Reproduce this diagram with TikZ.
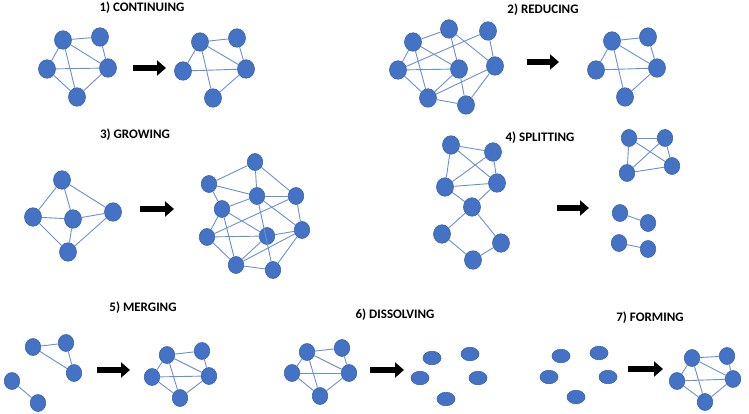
\documentclass[tikz,border=0pt]{standalone}
\usepackage{fontspec}
\setmainfont{Carlito}
\usetikzlibrary{shapes.geometric,arrows.meta}
\definecolor{nodeblue}{HTML}{4472C4}
\definecolor{nodeline}{HTML}{3A62AC}
\definecolor{edgeblue}{HTML}{6A8FD3}
\tikzset{
  nd/.style={ellipse,fill=nodeblue,draw=nodeline,line width=0.6pt,inner sep=0pt,minimum width=17pt,minimum height=18.5pt},
  nds/.style={nd,minimum width=15.5pt,minimum height=17pt},
  dot/.style={ellipse,fill=nodeblue,draw=nodeline,line width=0.6pt,inner sep=0pt,minimum width=18pt,minimum height=13.5pt},
  edge/.style={draw=edgeblue,line width=0.9pt},
  bigarrow/.style={line width=6.5pt,black,-{Triangle[length=9pt,width=15pt]}},
  ttl/.style={font=\bfseries\fontsize{13}{15}\selectfont,inner sep=0pt}
}
\begin{document}
\begin{tikzpicture}[x=1pt,y=-1pt]
\useasboundingbox (0,0) rectangle (749,414);
% ---------- 1) CONTINUING
\node[ttl] (t1) at (142,8) {1) CONTINUING};
\node[nd] (a1) at (63,40) {};
\node[nd] (a2) at (100,37) {};
\node[nd] (a3) at (47,69) {};
\node[nd] (a4) at (108,68) {};
\node[nd] (a5) at (77,97) {};
\foreach \u/\v in {a1/a2,a1/a3,a1/a4,a1/a5,a2/a4,a3/a4,a3/a5,a4/a5} \draw[edge] (\u) -- (\v);
\coordinate (r1s) at (133,68); \coordinate (r1e) at (166,68);
\draw[bigarrow] (r1s) -- (r1e);
\node[nd] (b1) at (200,42) {};
\node[nd] (b2) at (237,38) {};
\node[nd] (b3) at (183,71) {};
\node[nd] (b4) at (246,69) {};
\node[nd] (b5) at (213,98) {};
\foreach \u/\v in {b1/b2,b1/b3,b1/b4,b1/b5,b2/b4,b3/b4,b4/b5} \draw[edge] (\u) -- (\v);
% ---------- 2) REDUCING
\node[ttl] (t2) at (543,10) {2) REDUCING};
\node[nd] (p1) at (413,42) {};
\node[nd] (p2) at (449,29) {};
\node[nd] (p3) at (488,31) {};
\node[nd] (p4) at (398,70) {};
\node[nd] (p5) at (459,69) {};
\node[nd] (p6) at (495,66) {};
\node[nd] (p7) at (428,98) {};
\node[nd] (p8) at (466,105) {};
\foreach \u/\v in {p1/p2,p1/p4,p1/p5,p1/p7,p2/p5,p2/p6,p3/p6,p3/p4,p4/p5,p4/p7,p5/p7,p5/p8,p6/p7,p6/p8,p7/p8} \draw[edge] (\u) -- (\v);
\coordinate (r2s) at (527,62); \coordinate (r2e) at (559,62);
\draw[bigarrow] (r2s) -- (r2e);
\node[nd] (q1) at (612,41) {};
\node[nd] (q2) at (648,37) {};
\node[nd] (q3) at (596,70) {};
\node[nd] (q4) at (657,68) {};
\node[nd] (q5) at (625,97) {};
\foreach \u/\v in {q1/q2,q1/q3,q1/q4,q1/q5,q2/q4,q3/q4,q4/q5} \draw[edge] (\u) -- (\v);
% ---------- 3) GROWING
\node[ttl] (t3) at (135,135) {3) GROWING};
\node[nd] (g1) at (62,180) {};
\node[nd] (g2) at (33,217) {};
\node[nd] (g3) at (73,219) {};
\node[nd] (g4) at (113,212) {};
\node[nd] (g5) at (68,252) {};
\foreach \u/\v in {g1/g2,g1/g3,g1/g4,g2/g3,g2/g5,g3/g4,g3/g5,g4/g5} \draw[edge] (\u) -- (\v);
\coordinate (r3s) at (140,209); \coordinate (r3e) at (174,209);
\draw[bigarrow] (r3s) -- (r3e);
\node[nds] (h1) at (255,162) {};
\node[nds] (h2) at (209,184) {};
\node[nds] (h3) at (257,196) {};
\node[nds] (h4) at (296,196) {};
\node[nds] (h5) at (222,209) {};
\node[nds] (h6) at (207,237) {};
\node[nds] (h7) at (267,236) {};
\node[nds] (h8) at (302,230) {};
\node[nds] (h9) at (236,265) {};
\node[nds] (h10) at (273,270) {};
\foreach \u/\v in {h1/h2,h1/h3,h1/h4,h2/h3,h2/h5,h3/h4,h3/h5,h3/h10,h3/h8,h4/h8,h4/h6,h5/h7,h5/h9,h5/h6,h6/h7,h6/h9,h7/h8,h7/h9,h8/h9,h8/h10,h9/h10} \draw[edge] (\u) -- (\v);
% ---------- 4) SPLITTING
\node[ttl] (t4) at (540,138) {4) SPLITTING};
\node[nd] (s1) at (451,145) {};
\node[nd] (s2) at (493,152) {};
\node[nd] (s3) at (445,187) {};
\node[nd] (s4) at (497,183) {};
\node[nd] (s5) at (472,207) {};
\node[nd] (s6) at (442,234) {};
\node[nd] (s7) at (501,243) {};
\node[nd] (s8) at (473,260) {};
\foreach \u/\v in {s1/s2,s1/s3,s1/s4,s2/s3,s2/s4,s3/s4,s3/s5,s4/s5,s5/s6,s5/s7,s6/s8,s8/s7} \draw[edge] (\u) -- (\v);
\coordinate (r4s) at (557,208); \coordinate (r4e) at (589,208);
\draw[bigarrow] (r4s) -- (r4e);
\node[nds] (u1) at (629,138) {};
\node[nds] (u2) at (665,138) {};
\node[nds] (u3) at (627,173) {};
\node[nds] (u4) at (672,166) {};
\foreach \u/\v in {u1/u2,u1/u3,u1/u4,u2/u3,u2/u4,u3/u4} \draw[edge] (\u) -- (\v);
\node[nds] (v1) at (620,213) {};
\node[nds] (v2) at (648,223) {};
\node[nds] (v3) at (619,243) {};
\node[nds] (v4) at (648,249) {};
\draw[edge] (v1) -- (v2);
\draw[edge] (v3) -- (v4);
% ---------- 5) MERGING
\node[ttl] (t5) at (143,308) {5) MERGING};
\node[nds] (m1) at (33,347) {};
\node[nds] (m2) at (66,343) {};
\node[nds] (m3) at (74,373) {};
\node[nds] (m4) at (12,381) {};
\node[nds] (m5) at (38,403) {};
\foreach \u/\v in {m1/m2,m1/m3,m2/m3,m4/m5} \draw[edge] (\u) -- (\v);
\coordinate (r5s) at (97,370); \coordinate (r5e) at (130,370);
\draw[bigarrow] (r5s) -- (r5e);
\node[nds] (n1) at (167,355) {};
\node[nds] (n2) at (202,351) {};
\node[nds] (n3) at (152,377) {};
\node[nds] (n4) at (209,376) {};
\node[nds] (n5) at (180,398) {};
\foreach \u/\v in {n1/n2,n1/n3,n1/n4,n1/n5,n2/n4,n3/n4,n3/n5,n4/n5} \draw[edge] (\u) -- (\v);
% ---------- 6) DISSOLVING
\node[ttl] (t6) at (395,315) {6) DISSOLVING};
\node[nds] (d1) at (307,352) {};
\node[nds] (d2) at (342,348) {};
\node[nds] (d3) at (292,373) {};
\node[nds] (d4) at (349,373) {};
\node[nds] (d5) at (320,396) {};
\foreach \u/\v in {d1/d2,d1/d3,d1/d4,d1/d5,d2/d4,d3/d4,d3/d5,d4/d5} \draw[edge] (\u) -- (\v);
\coordinate (r6s) at (370,370); \coordinate (r6e) at (404,370);
\draw[bigarrow] (r6s) -- (r6e);
\node[dot] (e1) at (432,358) {};
\node[dot] (e2) at (470,354) {};
\node[dot] (e3) at (420,378) {};
\node[dot] (e4) at (478,378) {};
\node[dot] (e5) at (446,399) {};
% ---------- 7) FORMING
\node[ttl] (t7) at (650,318) {7) FORMING};
\node[dot] (f1) at (561,356) {};
\node[dot] (f2) at (599,353) {};
\node[dot] (f3) at (549,377) {};
\node[dot] (f4) at (608,377) {};
\node[dot] (f5) at (576,397) {};
\coordinate (r7s) at (628,369); \coordinate (r7e) at (663,369);
\draw[bigarrow] (r7s) -- (r7e);
\node[nds] (k1) at (692,358) {};
\node[nds] (k2) at (727,356) {};
\node[nds] (k3) at (677,381) {};
\node[nds] (k4) at (733,379) {};
\node[nds] (k5) at (705,402) {};
\foreach \u/\v in {k1/k2,k1/k3,k1/k4,k1/k5,k2/k4,k3/k4,k3/k5,k4/k5} \draw[edge] (\u) -- (\v);
\end{tikzpicture}
\end{document}
